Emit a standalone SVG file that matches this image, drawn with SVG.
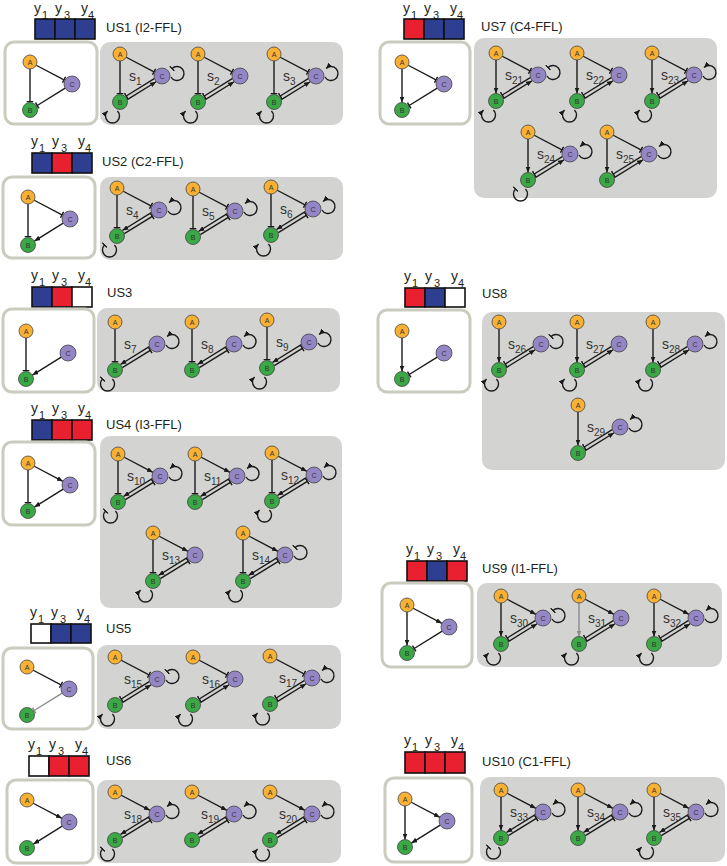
<svg xmlns="http://www.w3.org/2000/svg" width="727" height="866" viewBox="0 0 727 866">
<style>
text{font-family:"Liberation Sans",Arial,sans-serif;fill:#231f20}
.lab{font-size:13px}
.yl{font-size:14px}
.ys{font-size:11px}
.sl{font-size:14px;fill:#333}
.ss{font-size:10px}
.nl{font-size:7px;text-anchor:middle;fill:#333}
.nA{fill:#f8b133;stroke:#444;stroke-width:.8}
.nB{fill:#3aa845;stroke:#444;stroke-width:.8}
.nC{fill:#9486c4;stroke:#444;stroke-width:.8}
.e{fill:none;stroke:#1a1a1a;stroke-width:1.4}
.eg{fill:none;stroke:#8c8c8c;stroke-width:1.4}
.wb{fill:#fff;stroke:#cbcbbf;stroke-width:3}
.gb{fill:#d3d4d2}
.cb{fill:#2e3f92;stroke:#111;stroke-width:1.6}
.cr{fill:#e8202f;stroke:#111;stroke-width:1.6}
.cw{fill:#fff;stroke:#111;stroke-width:1.6}
</style>
<defs>
<marker id="ar" viewBox="0 0 6 5" refX="6" refY="2.5" markerWidth="6" markerHeight="5" markerUnits="userSpaceOnUse" orient="auto"><path d="M0,0L6,2.5L0,5z" fill="#1a1a1a"/></marker>
<marker id="arg" viewBox="0 0 6 5" refX="6" refY="2.5" markerWidth="6" markerHeight="5" markerUnits="userSpaceOnUse" orient="auto"><path d="M0,0L6,2.5L0,5z" fill="#8c8c8c"/></marker>
<marker id="br" viewBox="-1 -4 2 8" refX="0" refY="0" markerWidth="2" markerHeight="8" markerUnits="userSpaceOnUse" orient="auto"><path d="M0,-3.3V3.3" stroke="#1a1a1a" stroke-width="1.5"/></marker>
<marker id="brg" viewBox="-1 -4 2 8" refX="0" refY="0" markerWidth="2" markerHeight="8" markerUnits="userSpaceOnUse" orient="auto"><path d="M0,-3.3V3.3" stroke="#8c8c8c" stroke-width="1.5"/></marker>
<path id="ABa" class="e" d="M0,7V40.5" marker-end="url(#ar)"/>
<path id="ABb" class="e" d="M0,7V39.5" marker-end="url(#br)"/>
<path id="ABg" class="eg" d="M0,7V40.5" marker-end="url(#arg)"/>
<path id="ACa" class="e" d="M6.2,3.25L34.9,18.3" marker-end="url(#ar)"/>
<path id="ACb" class="e" d="M6.2,3.25L34,17.8" marker-end="url(#br)"/>
<path id="CBa" class="e" d="M35.2,26.2L6.4,44.1" marker-end="url(#ar)"/>
<path id="CBb" class="e" d="M35.2,26.2L7.2,43.5" marker-end="url(#br)"/>
<path id="CBg" class="eg" d="M35.2,26.2L7.2,43.5" marker-end="url(#brg)"/>
<path id="uCBa" class="e" d="M34.25,24.7L5.4,42.5" marker-end="url(#ar)"/>
<path id="uCBb" class="e" d="M34.25,24.7L6.25,42" marker-end="url(#br)"/>
<path id="lBCa" class="e" d="M7.3,45.6L36.15,27.75" marker-end="url(#ar)"/>
<path id="lBCb" class="e" d="M7.3,45.6L35.3,28.3" marker-end="url(#br)"/>
<path id="Lcp" class="e" d="M50.94,23A7,7 0 1 0 52.05,14.55" marker-end="url(#ar)"/>
<path id="Lcn" class="e" d="M50.94,23A7,7 0 1 0 52.05,14.55" marker-end="url(#br)"/>
<path id="Lbp" class="e" d="M-2.55,57.05A7,7 0 1 1 -12.45,57.05" marker-end="url(#ar)"/>
<path id="Lbn" class="e" d="M-2.55,57.05A7,7 0 1 1 -12.45,57.05" marker-end="url(#br)"/>
</defs>
<rect width="727" height="866" fill="#fff"/>

<!-- US1 -->
<g id="US1">
<text class="yl" x="34" y="13">y</text><text class="ys" x="42" y="18.5">1</text><text class="yl" x="55" y="13">y</text><text class="ys" x="64" y="18.5">3</text><text class="yl" x="81" y="13">y</text><text class="ys" x="88" y="18.5">4</text>
<rect class="cb" x="35" y="19" width="20" height="20"/><rect class="cb" x="55" y="19" width="20" height="20"/><rect class="cb" x="75" y="19" width="20" height="20"/>
<text class="lab" x="106" y="32">US1 (I2-FFL)</text>
<rect class="wb" x="5" y="42" width="92" height="82" rx="9"/>
<rect class="gb" x="100" y="42" width="243" height="83" rx="10"/>
<g id="US1-t" transform="translate(30,62)"><g class="conn"><use href="#ABb"/><use href="#ACb"/><use href="#CBb"/></g><g id="US1-t-A"><circle class="nA" r="7"/><text class="nl" y="2.5">A</text></g><g id="US1-t-C"><circle class="nC" cx="42" cy="22" r="8"/><text class="nl" x="42" y="24.5">C</text></g><g id="US1-t-B"><circle class="nB" cy="48" r="7.5"/><text class="nl" y="50.5">B</text></g></g>
<g id="s1" transform="translate(120,54)"><g class="conn"><use href="#ABb"/><use href="#ACb"/><use href="#uCBb"/><use href="#lBCa"/><use href="#Lcn"/><use href="#Lbp"/></g><text class="sl" x="9" y="27">s<tspan class="ss" dy="4">1</tspan></text><g id="s1-A"><circle class="nA" r="7"/><text class="nl" y="2.5">A</text></g><g id="s1-C"><circle class="nC" cx="42" cy="22" r="8"/><text class="nl" x="42" y="24.5">C</text></g><g id="s1-B"><circle class="nB" cy="48" r="7.5"/><text class="nl" y="50.5">B</text></g></g>
<g id="s2" transform="translate(198,54)"><g class="conn"><use href="#ABb"/><use href="#ACb"/><use href="#uCBb"/><use href="#lBCa"/><use href="#Lbp"/></g><text class="sl" x="9" y="27">s<tspan class="ss" dy="4">2</tspan></text><g id="s2-A"><circle class="nA" r="7"/><text class="nl" y="2.5">A</text></g><g id="s2-C"><circle class="nC" cx="42" cy="22" r="8"/><text class="nl" x="42" y="24.5">C</text></g><g id="s2-B"><circle class="nB" cy="48" r="7.5"/><text class="nl" y="50.5">B</text></g></g>
<g id="s3" transform="translate(274,54)"><g class="conn"><use href="#ABb"/><use href="#ACb"/><use href="#uCBb"/><use href="#lBCa"/><use href="#Lcp"/><use href="#Lbp"/></g><text class="sl" x="9" y="27">s<tspan class="ss" dy="4">3</tspan></text><g id="s3-A"><circle class="nA" r="7"/><text class="nl" y="2.5">A</text></g><g id="s3-C"><circle class="nC" cx="42" cy="22" r="8"/><text class="nl" x="42" y="24.5">C</text></g><g id="s3-B"><circle class="nB" cy="48" r="7.5"/><text class="nl" y="50.5">B</text></g></g>
</g>

<!-- US2 -->
<g id="US2">
<text class="yl" x="31" y="146">y</text><text class="ys" x="39" y="152">1</text><text class="yl" x="52" y="146">y</text><text class="ys" x="61" y="152">3</text><text class="yl" x="78" y="146">y</text><text class="ys" x="85" y="152">4</text>
<rect class="cb" x="32" y="153" width="20" height="20"/><rect class="cr" x="52" y="153" width="20" height="20"/><rect class="cb" x="72" y="153" width="20" height="20"/>
<text class="lab" x="102" y="166">US2 (C2-FFL)</text>
<rect class="wb" x="3" y="177" width="92" height="81" rx="9"/>
<rect class="gb" x="100" y="177" width="243" height="83" rx="10"/>
<g id="US2-t" transform="translate(28,197)"><g class="conn"><use href="#ABb"/><use href="#ACb"/><use href="#CBa"/></g><g id="US2-t-A"><circle class="nA" r="7"/><text class="nl" y="2.5">A</text></g><g id="US2-t-C"><circle class="nC" cx="42" cy="22" r="8"/><text class="nl" x="42" y="24.5">C</text></g><g id="US2-t-B"><circle class="nB" cy="48" r="7.5"/><text class="nl" y="50.5">B</text></g></g>
<g id="s4" transform="translate(117,188)"><g class="conn"><use href="#ABb"/><use href="#ACb"/><use href="#uCBa"/><use href="#lBCb"/><use href="#Lcp"/><use href="#Lbn"/></g><text class="sl" x="9" y="27">s<tspan class="ss" dy="4">4</tspan></text><g id="s4-A"><circle class="nA" r="7"/><text class="nl" y="2.5">A</text></g><g id="s4-C"><circle class="nC" cx="42" cy="22" r="8"/><text class="nl" x="42" y="24.5">C</text></g><g id="s4-B"><circle class="nB" cy="48" r="7.5"/><text class="nl" y="50.5">B</text></g></g>
<g id="s5" transform="translate(193,189)"><g class="conn"><use href="#ABb"/><use href="#ACb"/><use href="#uCBa"/><use href="#lBCb"/><use href="#Lcp"/></g><text class="sl" x="9" y="27">s<tspan class="ss" dy="4">5</tspan></text><g id="s5-A"><circle class="nA" r="7"/><text class="nl" y="2.5">A</text></g><g id="s5-C"><circle class="nC" cx="42" cy="22" r="8"/><text class="nl" x="42" y="24.5">C</text></g><g id="s5-B"><circle class="nB" cy="48" r="7.5"/><text class="nl" y="50.5">B</text></g></g>
<g id="s6" transform="translate(271,187)"><g class="conn"><use href="#ABb"/><use href="#ACb"/><use href="#uCBa"/><use href="#lBCb"/><use href="#Lcp"/><use href="#Lbp"/></g><text class="sl" x="9" y="27">s<tspan class="ss" dy="4">6</tspan></text><g id="s6-A"><circle class="nA" r="7"/><text class="nl" y="2.5">A</text></g><g id="s6-C"><circle class="nC" cx="42" cy="22" r="8"/><text class="nl" x="42" y="24.5">C</text></g><g id="s6-B"><circle class="nB" cy="48" r="7.5"/><text class="nl" y="50.5">B</text></g></g>
</g>

<!-- US3 -->
<g id="US3">
<text class="yl" x="31" y="280">y</text><text class="ys" x="39" y="286">1</text><text class="yl" x="52" y="280">y</text><text class="ys" x="61" y="286">3</text><text class="yl" x="78" y="280">y</text><text class="ys" x="85" y="286">4</text>
<rect class="cb" x="32" y="287" width="20" height="20"/><rect class="cr" x="52" y="287" width="20" height="20"/><rect class="cw" x="72" y="287" width="20" height="20"/>
<text class="lab" x="107" y="297">US3</text>
<rect class="wb" x="3" y="309" width="91" height="83" rx="9"/>
<rect class="gb" x="97" y="308" width="243" height="84" rx="10"/>
<g id="US3-t" transform="translate(26,331)"><g class="conn"><use href="#ABb"/><use href="#CBa"/></g><g id="US3-t-A"><circle class="nA" r="7"/><text class="nl" y="2.5">A</text></g><g id="US3-t-C"><circle class="nC" cx="42" cy="22" r="8"/><text class="nl" x="42" y="24.5">C</text></g><g id="US3-t-B"><circle class="nB" cy="48" r="7.5"/><text class="nl" y="50.5">B</text></g></g>
<g id="s7" transform="translate(115,322)"><g class="conn"><use href="#ABb"/><use href="#uCBa"/><use href="#lBCb"/><use href="#Lcp"/><use href="#Lbn"/></g><text class="sl" x="9" y="27">s<tspan class="ss" dy="4">7</tspan></text><g id="s7-A"><circle class="nA" r="7"/><text class="nl" y="2.5">A</text></g><g id="s7-C"><circle class="nC" cx="42" cy="22" r="8"/><text class="nl" x="42" y="24.5">C</text></g><g id="s7-B"><circle class="nB" cy="48" r="7.5"/><text class="nl" y="50.5">B</text></g></g>
<g id="s8" transform="translate(192,322)"><g class="conn"><use href="#ABb"/><use href="#uCBa"/><use href="#lBCb"/><use href="#Lcp"/></g><text class="sl" x="9" y="27">s<tspan class="ss" dy="4">8</tspan></text><g id="s8-A"><circle class="nA" r="7"/><text class="nl" y="2.5">A</text></g><g id="s8-C"><circle class="nC" cx="42" cy="22" r="8"/><text class="nl" x="42" y="24.5">C</text></g><g id="s8-B"><circle class="nB" cy="48" r="7.5"/><text class="nl" y="50.5">B</text></g></g>
<g id="s9" transform="translate(267,320)"><g class="conn"><use href="#ABb"/><use href="#uCBa"/><use href="#lBCb"/><use href="#Lcp"/><use href="#Lbp"/></g><text class="sl" x="9" y="27">s<tspan class="ss" dy="4">9</tspan></text><g id="s9-A"><circle class="nA" r="7"/><text class="nl" y="2.5">A</text></g><g id="s9-C"><circle class="nC" cx="42" cy="22" r="8"/><text class="nl" x="42" y="24.5">C</text></g><g id="s9-B"><circle class="nB" cy="48" r="7.5"/><text class="nl" y="50.5">B</text></g></g>
</g>

<!-- US4 -->
<g id="US4">
<text class="yl" x="31" y="413">y</text><text class="ys" x="39" y="419">1</text><text class="yl" x="52" y="413">y</text><text class="ys" x="61" y="419">3</text><text class="yl" x="78" y="413">y</text><text class="ys" x="85" y="419">4</text>
<rect class="cb" x="32" y="420" width="20" height="20"/><rect class="cr" x="52" y="420" width="20" height="20"/><rect class="cr" x="72" y="420" width="20" height="20"/>
<text class="lab" x="106" y="429">US4 (I3-FFL)</text>
<rect class="wb" x="3" y="442" width="92" height="83" rx="9"/>
<rect class="gb" x="100" y="436" width="242" height="172" rx="10"/>
<g id="US4-t" transform="translate(28,463)"><g class="conn"><use href="#ABb"/><use href="#ACa"/><use href="#CBa"/></g><g id="US4-t-A"><circle class="nA" r="7"/><text class="nl" y="2.5">A</text></g><g id="US4-t-C"><circle class="nC" cx="42" cy="22" r="8"/><text class="nl" x="42" y="24.5">C</text></g><g id="US4-t-B"><circle class="nB" cy="48" r="7.5"/><text class="nl" y="50.5">B</text></g></g>
<g id="s10" transform="translate(118,454)"><g class="conn"><use href="#ABb"/><use href="#ACa"/><use href="#uCBa"/><use href="#lBCb"/><use href="#Lcp"/><use href="#Lbn"/></g><text class="sl" x="9" y="27">s<tspan class="ss" dy="4">10</tspan></text><g id="s10-A"><circle class="nA" r="7"/><text class="nl" y="2.5">A</text></g><g id="s10-C"><circle class="nC" cx="42" cy="22" r="8"/><text class="nl" x="42" y="24.5">C</text></g><g id="s10-B"><circle class="nB" cy="48" r="7.5"/><text class="nl" y="50.5">B</text></g></g>
<g id="s11" transform="translate(195,454)"><g class="conn"><use href="#ABb"/><use href="#ACa"/><use href="#uCBa"/><use href="#lBCb"/><use href="#Lcp"/></g><text class="sl" x="9" y="27">s<tspan class="ss" dy="4">11</tspan></text><g id="s11-A"><circle class="nA" r="7"/><text class="nl" y="2.5">A</text></g><g id="s11-C"><circle class="nC" cx="42" cy="22" r="8"/><text class="nl" x="42" y="24.5">C</text></g><g id="s11-B"><circle class="nB" cy="48" r="7.5"/><text class="nl" y="50.5">B</text></g></g>
<g id="s12" transform="translate(272,453)"><g class="conn"><use href="#ABb"/><use href="#ACa"/><use href="#uCBa"/><use href="#lBCb"/><use href="#Lcp"/><use href="#Lbp"/></g><text class="sl" x="9" y="27">s<tspan class="ss" dy="4">12</tspan></text><g id="s12-A"><circle class="nA" r="7"/><text class="nl" y="2.5">A</text></g><g id="s12-C"><circle class="nC" cx="42" cy="22" r="8"/><text class="nl" x="42" y="24.5">C</text></g><g id="s12-B"><circle class="nB" cy="48" r="7.5"/><text class="nl" y="50.5">B</text></g></g>
<g id="s13" transform="translate(153,533)"><g class="conn"><use href="#ABb"/><use href="#ACa"/><use href="#uCBa"/><use href="#lBCb"/><use href="#Lbp"/></g><text class="sl" x="9" y="27">s<tspan class="ss" dy="4">13</tspan></text><g id="s13-A"><circle class="nA" r="7"/><text class="nl" y="2.5">A</text></g><g id="s13-C"><circle class="nC" cx="42" cy="22" r="8"/><text class="nl" x="42" y="24.5">C</text></g><g id="s13-B"><circle class="nB" cy="48" r="7.5"/><text class="nl" y="50.5">B</text></g></g>
<g id="s14" transform="translate(243,533)"><g class="conn"><use href="#ABb"/><use href="#ACa"/><use href="#uCBa"/><use href="#lBCb"/><use href="#Lcn"/><use href="#Lbp"/></g><text class="sl" x="9" y="27">s<tspan class="ss" dy="4">14</tspan></text><g id="s14-A"><circle class="nA" r="7"/><text class="nl" y="2.5">A</text></g><g id="s14-C"><circle class="nC" cx="42" cy="22" r="8"/><text class="nl" x="42" y="24.5">C</text></g><g id="s14-B"><circle class="nB" cy="48" r="7.5"/><text class="nl" y="50.5">B</text></g></g>
</g>

<!-- US5 -->
<g id="US5">
<text class="yl" x="30" y="617">y</text><text class="ys" x="38" y="623">1</text><text class="yl" x="51" y="617">y</text><text class="ys" x="60" y="623">3</text><text class="yl" x="77" y="617">y</text><text class="ys" x="84" y="623">4</text>
<rect class="cw" x="31" y="624" width="20" height="19"/><rect class="cb" x="51" y="624" width="20" height="19"/><rect class="cb" x="71" y="624" width="20" height="19"/>
<text class="lab" x="106" y="633">US5</text>
<rect class="wb" x="3" y="648" width="90" height="81" rx="9"/>
<rect class="gb" x="97" y="645" width="244" height="84" rx="10"/>
<g id="US5-t" transform="translate(27,667)"><g class="conn"><use href="#ACb"/><use href="#CBg"/></g><g id="US5-t-A"><circle class="nA" r="7"/><text class="nl" y="2.5">A</text></g><g id="US5-t-C"><circle class="nC" cx="42" cy="22" r="8"/><text class="nl" x="42" y="24.5">C</text></g><g id="US5-t-B"><circle class="nB" cy="48" r="7.5"/><text class="nl" y="50.5">B</text></g></g>
<g id="s15" transform="translate(115,657)"><g class="conn"><use href="#ACb"/><use href="#uCBb"/><use href="#lBCa"/><use href="#Lcn"/><use href="#Lbp"/></g><text class="sl" x="9" y="27">s<tspan class="ss" dy="4">15</tspan></text><g id="s15-A"><circle class="nA" r="7"/><text class="nl" y="2.5">A</text></g><g id="s15-C"><circle class="nC" cx="42" cy="22" r="8"/><text class="nl" x="42" y="24.5">C</text></g><g id="s15-B"><circle class="nB" cy="48" r="7.5"/><text class="nl" y="50.5">B</text></g></g>
<g id="s16" transform="translate(193,657)"><g class="conn"><use href="#ACb"/><use href="#uCBb"/><use href="#lBCa"/><use href="#Lbp"/></g><text class="sl" x="9" y="27">s<tspan class="ss" dy="4">16</tspan></text><g id="s16-A"><circle class="nA" r="7"/><text class="nl" y="2.5">A</text></g><g id="s16-C"><circle class="nC" cx="42" cy="22" r="8"/><text class="nl" x="42" y="24.5">C</text></g><g id="s16-B"><circle class="nB" cy="48" r="7.5"/><text class="nl" y="50.5">B</text></g></g>
<g id="s17" transform="translate(270,656)"><g class="conn"><use href="#ACb"/><use href="#uCBb"/><use href="#lBCa"/><use href="#Lcp"/><use href="#Lbp"/></g><text class="sl" x="9" y="27">s<tspan class="ss" dy="4">17</tspan></text><g id="s17-A"><circle class="nA" r="7"/><text class="nl" y="2.5">A</text></g><g id="s17-C"><circle class="nC" cx="42" cy="22" r="8"/><text class="nl" x="42" y="24.5">C</text></g><g id="s17-B"><circle class="nB" cy="48" r="7.5"/><text class="nl" y="50.5">B</text></g></g>
</g>

<!-- US6 -->
<g id="US6">
<text class="yl" x="28" y="749">y</text><text class="ys" x="36" y="755">1</text><text class="yl" x="49" y="749">y</text><text class="ys" x="58" y="755">3</text><text class="yl" x="75" y="749">y</text><text class="ys" x="82" y="755">4</text>
<rect class="cw" x="29" y="756" width="20" height="20"/><rect class="cr" x="49" y="756" width="20" height="20"/><rect class="cr" x="69" y="756" width="20" height="20"/>
<text class="lab" x="106" y="765">US6</text>
<rect class="wb" x="7" y="780" width="86" height="83" rx="9"/>
<rect class="gb" x="97" y="780" width="244" height="83" rx="10"/>
<g id="US6-t" transform="translate(27,800)"><g class="conn"><use href="#ACa"/><use href="#CBa"/></g><g id="US6-t-A"><circle class="nA" r="7"/><text class="nl" y="2.5">A</text></g><g id="US6-t-C"><circle class="nC" cx="42" cy="22" r="8"/><text class="nl" x="42" y="24.5">C</text></g><g id="US6-t-B"><circle class="nB" cy="48" r="7.5"/><text class="nl" y="50.5">B</text></g></g>
<g id="s18" transform="translate(115,792)"><g class="conn"><use href="#ACa"/><use href="#uCBa"/><use href="#lBCb"/><use href="#Lcp"/><use href="#Lbn"/></g><text class="sl" x="9" y="27">s<tspan class="ss" dy="4">18</tspan></text><g id="s18-A"><circle class="nA" r="7"/><text class="nl" y="2.5">A</text></g><g id="s18-C"><circle class="nC" cx="42" cy="22" r="8"/><text class="nl" x="42" y="24.5">C</text></g><g id="s18-B"><circle class="nB" cy="48" r="7.5"/><text class="nl" y="50.5">B</text></g></g>
<g id="s19" transform="translate(192,792)"><g class="conn"><use href="#ACa"/><use href="#uCBa"/><use href="#lBCb"/><use href="#Lcp"/></g><text class="sl" x="9" y="27">s<tspan class="ss" dy="4">19</tspan></text><g id="s19-A"><circle class="nA" r="7"/><text class="nl" y="2.5">A</text></g><g id="s19-C"><circle class="nC" cx="42" cy="22" r="8"/><text class="nl" x="42" y="24.5">C</text></g><g id="s19-B"><circle class="nB" cy="48" r="7.5"/><text class="nl" y="50.5">B</text></g></g>
<g id="s20" transform="translate(270,792)"><g class="conn"><use href="#ACa"/><use href="#uCBa"/><use href="#lBCb"/><use href="#Lcp"/><use href="#Lbp"/></g><text class="sl" x="9" y="27">s<tspan class="ss" dy="4">20</tspan></text><g id="s20-A"><circle class="nA" r="7"/><text class="nl" y="2.5">A</text></g><g id="s20-C"><circle class="nC" cx="42" cy="22" r="8"/><text class="nl" x="42" y="24.5">C</text></g><g id="s20-B"><circle class="nB" cy="48" r="7.5"/><text class="nl" y="50.5">B</text></g></g>
</g>

<!-- US7 -->
<g id="US7">
<text class="yl" x="403" y="13">y</text><text class="ys" x="411" y="18.5">1</text><text class="yl" x="424" y="13">y</text><text class="ys" x="433" y="18.5">3</text><text class="yl" x="450" y="13">y</text><text class="ys" x="457" y="18.5">4</text>
<rect class="cr" x="404" y="19" width="20" height="20"/><rect class="cb" x="424" y="19" width="20" height="20"/><rect class="cb" x="444" y="19" width="20" height="20"/>
<text class="lab" x="481" y="31">US7 (C4-FFL)</text>
<rect class="wb" x="380" y="42" width="90" height="82" rx="9"/>
<rect class="gb" x="474" y="38" width="243" height="160" rx="10"/>
<g id="US7-t" transform="translate(402,62)"><g class="conn"><use href="#ABa"/><use href="#ACb"/><use href="#CBb"/></g><g id="US7-t-A"><circle class="nA" r="7"/><text class="nl" y="2.5">A</text></g><g id="US7-t-C"><circle class="nC" cx="42" cy="22" r="8"/><text class="nl" x="42" y="24.5">C</text></g><g id="US7-t-B"><circle class="nB" cy="48" r="7.5"/><text class="nl" y="50.5">B</text></g></g>
<g id="s21" transform="translate(496,53)"><g class="conn"><use href="#ABa"/><use href="#ACb"/><use href="#uCBb"/><use href="#lBCa"/><use href="#Lcn"/><use href="#Lbp"/></g><text class="sl" x="9" y="27">s<tspan class="ss" dy="4">21</tspan></text><g id="s21-A"><circle class="nA" r="7"/><text class="nl" y="2.5">A</text></g><g id="s21-C"><circle class="nC" cx="42" cy="22" r="8"/><text class="nl" x="42" y="24.5">C</text></g><g id="s21-B"><circle class="nB" cy="48" r="7.5"/><text class="nl" y="50.5">B</text></g></g>
<g id="s22" transform="translate(577,53)"><g class="conn"><use href="#ABa"/><use href="#ACb"/><use href="#uCBb"/><use href="#lBCa"/><use href="#Lbp"/></g><text class="sl" x="9" y="27">s<tspan class="ss" dy="4">22</tspan></text><g id="s22-A"><circle class="nA" r="7"/><text class="nl" y="2.5">A</text></g><g id="s22-C"><circle class="nC" cx="42" cy="22" r="8"/><text class="nl" x="42" y="24.5">C</text></g><g id="s22-B"><circle class="nB" cy="48" r="7.5"/><text class="nl" y="50.5">B</text></g></g>
<g id="s23" transform="translate(652,53)"><g class="conn"><use href="#ABa"/><use href="#ACb"/><use href="#uCBb"/><use href="#lBCa"/><use href="#Lcp"/><use href="#Lbp"/></g><text class="sl" x="9" y="27">s<tspan class="ss" dy="4">23</tspan></text><g id="s23-A"><circle class="nA" r="7"/><text class="nl" y="2.5">A</text></g><g id="s23-C"><circle class="nC" cx="42" cy="22" r="8"/><text class="nl" x="42" y="24.5">C</text></g><g id="s23-B"><circle class="nB" cy="48" r="7.5"/><text class="nl" y="50.5">B</text></g></g>
<g id="s24" transform="translate(528,132)"><g class="conn"><use href="#ABa"/><use href="#ACb"/><use href="#uCBb"/><use href="#lBCa"/><use href="#Lcp"/><use href="#Lbn"/></g><text class="sl" x="9" y="27">s<tspan class="ss" dy="4">24</tspan></text><g id="s24-A"><circle class="nA" r="7"/><text class="nl" y="2.5">A</text></g><g id="s24-C"><circle class="nC" cx="42" cy="22" r="8"/><text class="nl" x="42" y="24.5">C</text></g><g id="s24-B"><circle class="nB" cy="48" r="7.5"/><text class="nl" y="50.5">B</text></g></g>
<g id="s25" transform="translate(607,132)"><g class="conn"><use href="#ABa"/><use href="#ACb"/><use href="#uCBb"/><use href="#lBCa"/><use href="#Lcp"/></g><text class="sl" x="9" y="27">s<tspan class="ss" dy="4">25</tspan></text><g id="s25-A"><circle class="nA" r="7"/><text class="nl" y="2.5">A</text></g><g id="s25-C"><circle class="nC" cx="42" cy="22" r="8"/><text class="nl" x="42" y="24.5">C</text></g><g id="s25-B"><circle class="nB" cy="48" r="7.5"/><text class="nl" y="50.5">B</text></g></g>
</g>

<!-- US8 -->
<g id="US8">
<text class="yl" x="404" y="281">y</text><text class="ys" x="412" y="287">1</text><text class="yl" x="425" y="281">y</text><text class="ys" x="434" y="287">3</text><text class="yl" x="451" y="281">y</text><text class="ys" x="458" y="287">4</text>
<rect class="cr" x="405" y="288" width="20" height="19"/><rect class="cb" x="425" y="288" width="20" height="19"/><rect class="cw" x="445" y="288" width="20" height="19"/>
<text class="lab" x="482" y="298">US8</text>
<rect class="wb" x="378" y="310" width="92" height="82" rx="9"/>
<rect class="gb" x="482" y="312" width="243" height="158" rx="10"/>
<g id="US8-t" transform="translate(402,331)"><g class="conn"><use href="#ABa"/><use href="#CBb"/></g><g id="US8-t-A"><circle class="nA" r="7"/><text class="nl" y="2.5">A</text></g><g id="US8-t-C"><circle class="nC" cx="42" cy="22" r="8"/><text class="nl" x="42" y="24.5">C</text></g><g id="US8-t-B"><circle class="nB" cy="48" r="7.5"/><text class="nl" y="50.5">B</text></g></g>
<g id="s26" transform="translate(499,322)"><g class="conn"><use href="#ABa"/><use href="#uCBb"/><use href="#lBCa"/><use href="#Lcn"/><use href="#Lbp"/></g><text class="sl" x="9" y="27">s<tspan class="ss" dy="4">26</tspan></text><g id="s26-A"><circle class="nA" r="7"/><text class="nl" y="2.5">A</text></g><g id="s26-C"><circle class="nC" cx="42" cy="22" r="8"/><text class="nl" x="42" y="24.5">C</text></g><g id="s26-B"><circle class="nB" cy="48" r="7.5"/><text class="nl" y="50.5">B</text></g></g>
<g id="s27" transform="translate(577,322)"><g class="conn"><use href="#ABa"/><use href="#uCBb"/><use href="#lBCa"/><use href="#Lbp"/></g><text class="sl" x="9" y="27">s<tspan class="ss" dy="4">27</tspan></text><g id="s27-A"><circle class="nA" r="7"/><text class="nl" y="2.5">A</text></g><g id="s27-C"><circle class="nC" cx="42" cy="22" r="8"/><text class="nl" x="42" y="24.5">C</text></g><g id="s27-B"><circle class="nB" cy="48" r="7.5"/><text class="nl" y="50.5">B</text></g></g>
<g id="s28" transform="translate(653,322)"><g class="conn"><use href="#ABa"/><use href="#uCBb"/><use href="#lBCa"/><use href="#Lcp"/><use href="#Lbp"/></g><text class="sl" x="9" y="27">s<tspan class="ss" dy="4">28</tspan></text><g id="s28-A"><circle class="nA" r="7"/><text class="nl" y="2.5">A</text></g><g id="s28-C"><circle class="nC" cx="42" cy="22" r="8"/><text class="nl" x="42" y="24.5">C</text></g><g id="s28-B"><circle class="nB" cy="48" r="7.5"/><text class="nl" y="50.5">B</text></g></g>
<g id="s29" transform="translate(578,405)"><g class="conn"><use href="#ABa"/><use href="#uCBb"/><use href="#lBCa"/><use href="#Lcp"/></g><text class="sl" x="9" y="27">s<tspan class="ss" dy="4">29</tspan></text><g id="s29-A"><circle class="nA" r="7"/><text class="nl" y="2.5">A</text></g><g id="s29-C"><circle class="nC" cx="42" cy="22" r="8"/><text class="nl" x="42" y="24.5">C</text></g><g id="s29-B"><circle class="nB" cy="48" r="7.5"/><text class="nl" y="50.5">B</text></g></g>
</g>

<!-- US9 -->
<g id="US9">
<text class="yl" x="406" y="554">y</text><text class="ys" x="414" y="560">1</text><text class="yl" x="427" y="554">y</text><text class="ys" x="436" y="560">3</text><text class="yl" x="453" y="554">y</text><text class="ys" x="460" y="560">4</text>
<rect class="cr" x="407" y="561" width="20" height="20"/><rect class="cb" x="427" y="561" width="20" height="20"/><rect class="cr" x="447" y="561" width="20" height="20"/>
<text class="lab" x="482" y="573">US9 (I1-FFL)</text>
<rect class="wb" x="382" y="583" width="90" height="84" rx="9"/>
<rect class="gb" x="477" y="583" width="245" height="84" rx="10"/>
<g id="US9-t" transform="translate(407,605)"><g class="conn"><use href="#ABa"/><use href="#ACa"/><use href="#CBb"/></g><g id="US9-t-A"><circle class="nA" r="7"/><text class="nl" y="2.5">A</text></g><g id="US9-t-C"><circle class="nC" cx="42" cy="22" r="8"/><text class="nl" x="42" y="24.5">C</text></g><g id="US9-t-B"><circle class="nB" cy="48" r="7.5"/><text class="nl" y="50.5">B</text></g></g>
<g id="s30" transform="translate(501,596)"><g class="conn"><use href="#ABa"/><use href="#ACa"/><use href="#uCBb"/><use href="#lBCa"/><use href="#Lcn"/><use href="#Lbp"/></g><text class="sl" x="9" y="27">s<tspan class="ss" dy="4">30</tspan></text><g id="s30-A"><circle class="nA" r="7"/><text class="nl" y="2.5">A</text></g><g id="s30-C"><circle class="nC" cx="42" cy="22" r="8"/><text class="nl" x="42" y="24.5">C</text></g><g id="s30-B"><circle class="nB" cy="48" r="7.5"/><text class="nl" y="50.5">B</text></g></g>
<g id="s31" transform="translate(579,596)"><g class="conn"><use href="#ABg"/><use href="#ACa"/><use href="#uCBb"/><use href="#lBCa"/><use href="#Lbp"/></g><text class="sl" x="9" y="27">s<tspan class="ss" dy="4">31</tspan></text><g id="s31-A"><circle class="nA" r="7"/><text class="nl" y="2.5">A</text></g><g id="s31-C"><circle class="nC" cx="42" cy="22" r="8"/><text class="nl" x="42" y="24.5">C</text></g><g id="s31-B"><circle class="nB" cy="48" r="7.5"/><text class="nl" y="50.5">B</text></g></g>
<g id="s32" transform="translate(654,596)"><g class="conn"><use href="#ABa"/><use href="#ACa"/><use href="#uCBb"/><use href="#lBCa"/><use href="#Lcp"/><use href="#Lbp"/></g><text class="sl" x="9" y="27">s<tspan class="ss" dy="4">32</tspan></text><g id="s32-A"><circle class="nA" r="7"/><text class="nl" y="2.5">A</text></g><g id="s32-C"><circle class="nC" cx="42" cy="22" r="8"/><text class="nl" x="42" y="24.5">C</text></g><g id="s32-B"><circle class="nB" cy="48" r="7.5"/><text class="nl" y="50.5">B</text></g></g>
</g>

<!-- US10 -->
<g id="US10">
<text class="yl" x="404" y="745">y</text><text class="ys" x="412" y="751">1</text><text class="yl" x="425" y="745">y</text><text class="ys" x="434" y="751">3</text><text class="yl" x="451" y="745">y</text><text class="ys" x="458" y="751">4</text>
<rect class="cr" x="405" y="752" width="20" height="21"/><rect class="cr" x="425" y="752" width="20" height="21"/><rect class="cr" x="445" y="752" width="20" height="21"/>
<text class="lab" x="482" y="766">US10 (C1-FFL)</text>
<rect class="wb" x="385" y="778" width="87" height="84" rx="9"/>
<rect class="gb" x="480" y="777" width="245" height="85" rx="10"/>
<g id="US10-t" transform="translate(405,799)"><g class="conn"><use href="#ABa"/><use href="#ACa"/><use href="#CBa"/></g><g id="US10-t-A"><circle class="nA" r="7"/><text class="nl" y="2.5">A</text></g><g id="US10-t-C"><circle class="nC" cx="42" cy="22" r="8"/><text class="nl" x="42" y="24.5">C</text></g><g id="US10-t-B"><circle class="nB" cy="48" r="7.5"/><text class="nl" y="50.5">B</text></g></g>
<g id="s33" transform="translate(501,790)"><g class="conn"><use href="#ABa"/><use href="#ACa"/><use href="#uCBa"/><use href="#lBCb"/><use href="#Lcp"/><use href="#Lbn"/></g><text class="sl" x="9" y="27">s<tspan class="ss" dy="4">33</tspan></text><g id="s33-A"><circle class="nA" r="7"/><text class="nl" y="2.5">A</text></g><g id="s33-C"><circle class="nC" cx="42" cy="22" r="8"/><text class="nl" x="42" y="24.5">C</text></g><g id="s33-B"><circle class="nB" cy="48" r="7.5"/><text class="nl" y="50.5">B</text></g></g>
<g id="s34" transform="translate(578,790)"><g class="conn"><use href="#ABa"/><use href="#ACa"/><use href="#uCBa"/><use href="#lBCb"/><use href="#Lcp"/></g><text class="sl" x="9" y="27">s<tspan class="ss" dy="4">34</tspan></text><g id="s34-A"><circle class="nA" r="7"/><text class="nl" y="2.5">A</text></g><g id="s34-C"><circle class="nC" cx="42" cy="22" r="8"/><text class="nl" x="42" y="24.5">C</text></g><g id="s34-B"><circle class="nB" cy="48" r="7.5"/><text class="nl" y="50.5">B</text></g></g>
<g id="s35" transform="translate(654,790)"><g class="conn"><use href="#ABa"/><use href="#ACa"/><use href="#uCBa"/><use href="#lBCb"/><use href="#Lcp"/><use href="#Lbp"/></g><text class="sl" x="9" y="27">s<tspan class="ss" dy="4">35</tspan></text><g id="s35-A"><circle class="nA" r="7"/><text class="nl" y="2.5">A</text></g><g id="s35-C"><circle class="nC" cx="42" cy="22" r="8"/><text class="nl" x="42" y="24.5">C</text></g><g id="s35-B"><circle class="nB" cy="48" r="7.5"/><text class="nl" y="50.5">B</text></g></g>
</g>
</svg>
